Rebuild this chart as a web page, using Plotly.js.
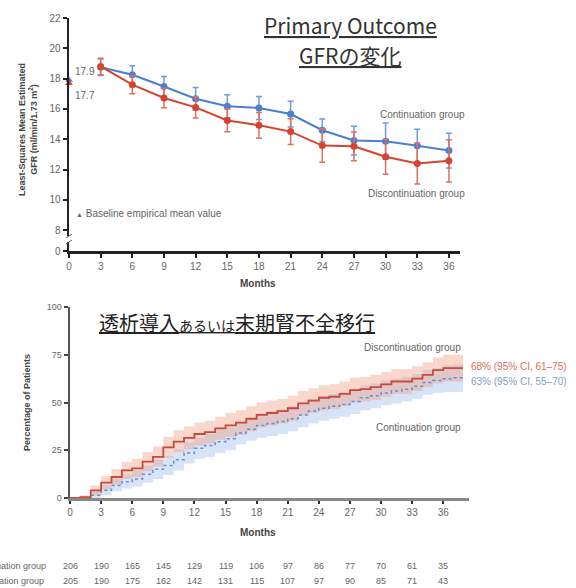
<!DOCTYPE html>
<html><head><meta charset="utf-8">
<script src="https://cdn.plot.ly/plotly-3.0.1.min.js"></script>
<style>html,body{margin:0;padding:0;background:#fff}#chart{width:576px;height:588px}</style>
</head><body><div id="chart"></div>
<script>
// ---- Top panel: GFR change ----
const monthsTop = [3,6,9,12,15,18,21,24,27,30,33,36];
const contGfr = [18.75,18.25,17.48,16.67,16.17,16.06,15.66,14.59,13.91,13.87,13.56,13.25];
const contErr = [0.55,0.6,0.66,0.75,0.76,0.76,0.85,0.75,0.95,1.2,1.1,1.15];
const discGfr = [18.8,17.6,16.72,16.1,15.24,14.92,14.5,13.58,13.53,12.84,12.4,12.57];
const discErr = [0.55,0.6,0.65,0.7,0.75,0.85,0.85,1.1,0.95,1.15,1.35,1.4];
const baselineCont = 17.9;
const baselineDisc = 17.7;
const topYTickVals = [6.62,8,10,12,14,16,18,20,22];
const topYTickText = ["0","8","10","12","14","16","18","20","22"];
const monthTicks = [0,3,6,9,12,15,18,21,24,27,30,33,36];

// ---- Bottom panel: dialysis or ESKD (cumulative %) ----
const kmTime = [0,1,2,3,4,5,6,7,8,9,10,11,12,13,14,15,16,17,18,19,20,21,22,23,24,25,26,27,28,29,30,31,32,33,34,35,36,37,37.9];
const discPct = [0,0.5,4,8,11,14.5,15.5,19,21.5,26.5,29.5,31.5,33.5,34.5,36.5,38,39.5,41.5,43.5,44.5,45.5,47,49.5,51,52.5,53,54.5,56.5,57,58,59.5,61,61,62.5,64.5,67,68,68,68];
const discUpper = [0,1.5,6.5,11.5,15,19,20.5,24,27,32,35.5,37.5,39.5,40.5,42.5,44.5,46,48,50,51,52,53.5,56,57.5,59,59.5,61,63,63.5,64.5,66,67.5,67.5,69,71,73.5,75,75,75];
const discLower = [0,0,1.5,4.5,7,10,11,14,16.5,21,24,25.5,27.5,28.5,30.5,32,33,35,37,38,39,40.5,43,44.5,46,46.5,48,50,50.5,51.5,53,54.5,54.5,56,58,60,61,61,61];
const contPct = [0,0,1.5,4,6.5,8.5,10,12.5,15,17,20,23.5,26,27.5,29.5,31,34,36,38,39,40,41.5,43.5,45.5,47,48,49,50.5,52.5,53.5,55,56,57,58.5,60.5,61.5,62.5,63,63];
const contUpper = [0,0.5,3.5,7,10,12.5,14.5,17,20,22,25.5,29,31.5,33.5,35.5,37,40,42,44.5,45.5,46.5,48,50,52,53.5,54.5,55.5,57,59,60,61.5,62.5,63.5,65,67,68,69.5,70,70];
const contLower = [0,0,0,1.5,3.5,5,6,8,10,12,14.5,18,20.5,21.5,23.5,25,28,30,31.5,32.5,33.5,35,37,39,40.5,41.5,42.5,44,46,47,48.5,49.5,50.5,52,54,55,55.5,55.5,55];
const bottomYTicks = [0,25,50,75,100];
const atRiskDisc = [206,190,165,145,129,119,106,97,86,77,70,61,35];
const atRiskCont = [205,190,175,162,142,131,115,107,97,90,85,71,43];

const BLUE = '#4b7fcf', RED = '#d4452f';
const txt = '#666';
const F = 'Liberation Sans, Arial, sans-serif';
const JP = 'Noto Sans CJK JP, sans-serif';

const traces = [
  {x: monthsTop, y: contGfr, type:'scatter', mode:'lines+markers', xaxis:'x', yaxis:'y',
   line:{color:BLUE, width:2}, marker:{color:BLUE, size:7},
   error_y:{type:'data', array:contErr, color:'#6f9be0', thickness:1.5, width:3}, showlegend:false, cliponaxis:false},
  {x: monthsTop, y: discGfr, type:'scatter', mode:'lines+markers', xaxis:'x', yaxis:'y',
   line:{color:RED, width:2}, marker:{color:RED, size:7},
   error_y:{type:'data', array:discErr, color:'#e0705c', thickness:1.5, width:3}, showlegend:false, cliponaxis:false},
  {x:[0], y:[baselineCont], type:'scatter', mode:'markers', xaxis:'x', yaxis:'y',
   marker:{symbol:'triangle-up', color:BLUE, size:7}, showlegend:false, cliponaxis:false},
  {x:[0], y:[baselineDisc], type:'scatter', mode:'markers', xaxis:'x', yaxis:'y',
   marker:{symbol:'triangle-up', color:RED, size:7}, showlegend:false, cliponaxis:false},
  // bottom bands
  {x:kmTime, y:contLower, type:'scatter', mode:'lines', xaxis:'x2', yaxis:'y2', line:{width:0, shape:'hv'}, showlegend:false, hoverinfo:'skip'},
  {x:kmTime, y:contUpper, type:'scatter', mode:'lines', xaxis:'x2', yaxis:'y2', line:{width:0, shape:'hv'}, fill:'tonexty', fillcolor:'rgba(150,185,235,0.38)', showlegend:false, hoverinfo:'skip'},
  {x:kmTime, y:discLower, type:'scatter', mode:'lines', xaxis:'x2', yaxis:'y2', line:{width:0, shape:'hv'}, showlegend:false, hoverinfo:'skip'},
  {x:kmTime, y:discUpper, type:'scatter', mode:'lines', xaxis:'x2', yaxis:'y2', line:{width:0, shape:'hv'}, fill:'tonexty', fillcolor:'rgba(240,150,120,0.38)', showlegend:false, hoverinfo:'skip'},
  {x:kmTime, y:contPct, type:'scatter', mode:'lines', xaxis:'x2', yaxis:'y2', line:{color:'#6b8fcc', width:1.5, shape:'hv', dash:'dot'}, showlegend:false},
  {x:kmTime, y:discPct, type:'scatter', mode:'lines', xaxis:'x2', yaxis:'y2', line:{color:'#c84a3a', width:1.8, shape:'hv'}, showlegend:false}
];

function px2x(p){return p/576;}
function px2y(p){return 1-p/588;}

function A(o){ return Object.assign({xref:'paper', yref:'paper', xanchor:'center', yanchor:'middle', showarrow:false}, o); }

const ann = [
  A({text:'<span style="text-decoration:underline">Primary Outcome</span>', x:px2x(350), y:px2y(25), font:{family:JP, size:21, color:'#333'}}),
  A({text:'<span style="text-decoration:underline">GFRの変化</span>', x:px2x(350), y:px2y(55), font:{family:JP, size:21, color:'#333'}}),
  A({text:'17.9', x:0, y:18.45, xref:'x', yref:'y', xanchor:'left', xshift:4, font:{family:F, size:10, color:txt}}),
  A({text:'17.7', x:0, y:16.87, xref:'x', yref:'y', xanchor:'left', xshift:4, font:{family:F, size:10, color:txt}}),
  A({text:'Continuation group', x:px2x(467), y:px2y(114), xanchor:'right', font:{family:F, size:10, color:txt}}),
  A({text:'Discontinuation group', x:px2x(467), y:px2y(193), xanchor:'right', font:{family:F, size:10, color:txt}}),
  A({text:'<span style="font-size:7px">▲</span> Baseline empirical mean value', x:px2x(74), y:px2y(213), xanchor:'left', font:{family:F, size:10, color:txt}}),
  A({text:'<b>Least-Squares Mean Estimated<br>GFR (ml/min/1.73 m<sup>2</sup>)</b>', x:px2x(28), y:px2y(130), textangle:-90, font:{family:F, size:9, color:'#444'}}),
  A({text:'<b>Months</b>', x:px2x(258), y:px2y(283), font:{family:F, size:10, color:'#444'}}),
  A({text:'<span style="text-decoration:underline">透析導入<span style="font-size:14px">あるいは</span>末期腎不全移行</span>', x:px2x(97), y:px2y(322), xanchor:'left', font:{family:JP, size:20, color:'#222'}}),
  A({text:'Discontinuation group', x:px2x(463), y:px2y(347), xanchor:'right', font:{family:F, size:10, color:txt}}),
  A({text:'Continuation group', x:px2x(463), y:px2y(427), xanchor:'right', font:{family:F, size:10, color:txt}}),
  A({text:'68% (95% CI, 61–75)', x:px2x(469), y:px2y(366), xanchor:'left', font:{family:F, size:10, color:'#d9705a'}}),
  A({text:'63% (95% CI, 55–70)', x:px2x(469), y:px2y(381), xanchor:'left', font:{family:F, size:10, color:'#7f9fcc'}}),
  A({text:'<b>Percentage of Patients</b>', x:px2x(27), y:px2y(403), textangle:-90, font:{family:F, size:9, color:'#444'}}),
  A({text:'<b>Months</b>', x:px2x(258), y:px2y(532), font:{family:F, size:10, color:'#444'}}),
  A({text:'Discontinuation group', x:px2x(48), y:px2y(566), xanchor:'right', font:{family:F, size:9, color:txt}}),
  A({text:'Continuation group', x:px2x(46), y:px2y(581), xanchor:'right', font:{family:F, size:9, color:txt}})
];
monthTicks.forEach((m,i)=>{
  ann.push(A({text:String(atRiskDisc[i]), x:m, y:px2y(566), xref:'x2', font:{family:F, size:9, color:txt}}));
  ann.push(A({text:String(atRiskCont[i]), x:m, y:px2y(581), xref:'x2', font:{family:F, size:9, color:txt}}));
});

const shapes = [
  // axis break marks on top y axis
  {type:'rect', xref:'paper', yref:'paper', x0:px2x(66), x1:px2x(72), y0:px2y(242), y1:px2y(236), fillcolor:'#fff', line:{width:0}, layer:'above'},
  {type:'line', xref:'paper', yref:'paper', x0:px2x(66), x1:px2x(72), y0:px2y(238), y1:px2y(234), line:{color:'#555', width:1}, layer:'above'},
  {type:'line', xref:'paper', yref:'paper', x0:px2x(66), x1:px2x(72), y0:px2y(244), y1:px2y(240), line:{color:'#555', width:1}, layer:'above'}
];

const layout = {
  width:576, height:588, margin:{l:0,r:0,t:0,b:0},
  paper_bgcolor:'#fff', plot_bgcolor:'rgba(0,0,0,0)', showlegend:false,
  font:{family:F, size:10, color:txt},
  xaxis:{domain:[px2x(69), px2x(460)], range:[0,37.05], tickvals:monthTicks, ticks:'outside', ticklen:4, tickwidth:2, tickcolor:'#222',
    showline:true, linecolor:'#222', linewidth:2.5, showgrid:false, zeroline:false, tickfont:{family:F, size:10, color:txt}, anchor:'y'},
  yaxis:{domain:[px2y(251), px2y(18)], range:[6.62,22], tickvals:topYTickVals, ticktext:topYTickText, ticks:'outside', ticklen:4, tickwidth:2, tickcolor:'#222',
    showline:true, linecolor:'#222', linewidth:2.5, showgrid:false, zeroline:false, tickfont:{family:F, size:10, color:txt}, anchor:'x'},
  xaxis2:{domain:[px2x(70), px2x(469)], range:[0,38.48], tickvals:monthTicks, ticks:'outside', ticklen:3, tickwidth:2, tickcolor:'#333',
    showline:true, linecolor:'#888', linewidth:2.5, showgrid:false, zeroline:false, tickfont:{family:F, size:10, color:txt}, anchor:'y2'},
  yaxis2:{domain:[px2y(498), px2y(307)], range:[0,100], tickvals:bottomYTicks, ticks:'outside', ticklen:4, tickwidth:2, tickcolor:'#444',
    showline:true, linecolor:'#555', linewidth:2.5, showgrid:false, zeroline:false, tickfont:{family:F, size:9, color:txt}, anchor:'x2'},
  annotations:ann, shapes:shapes
};
Plotly.newPlot('chart', traces, layout, {displayModeBar:false, staticPlot:true});
</script></body></html>
